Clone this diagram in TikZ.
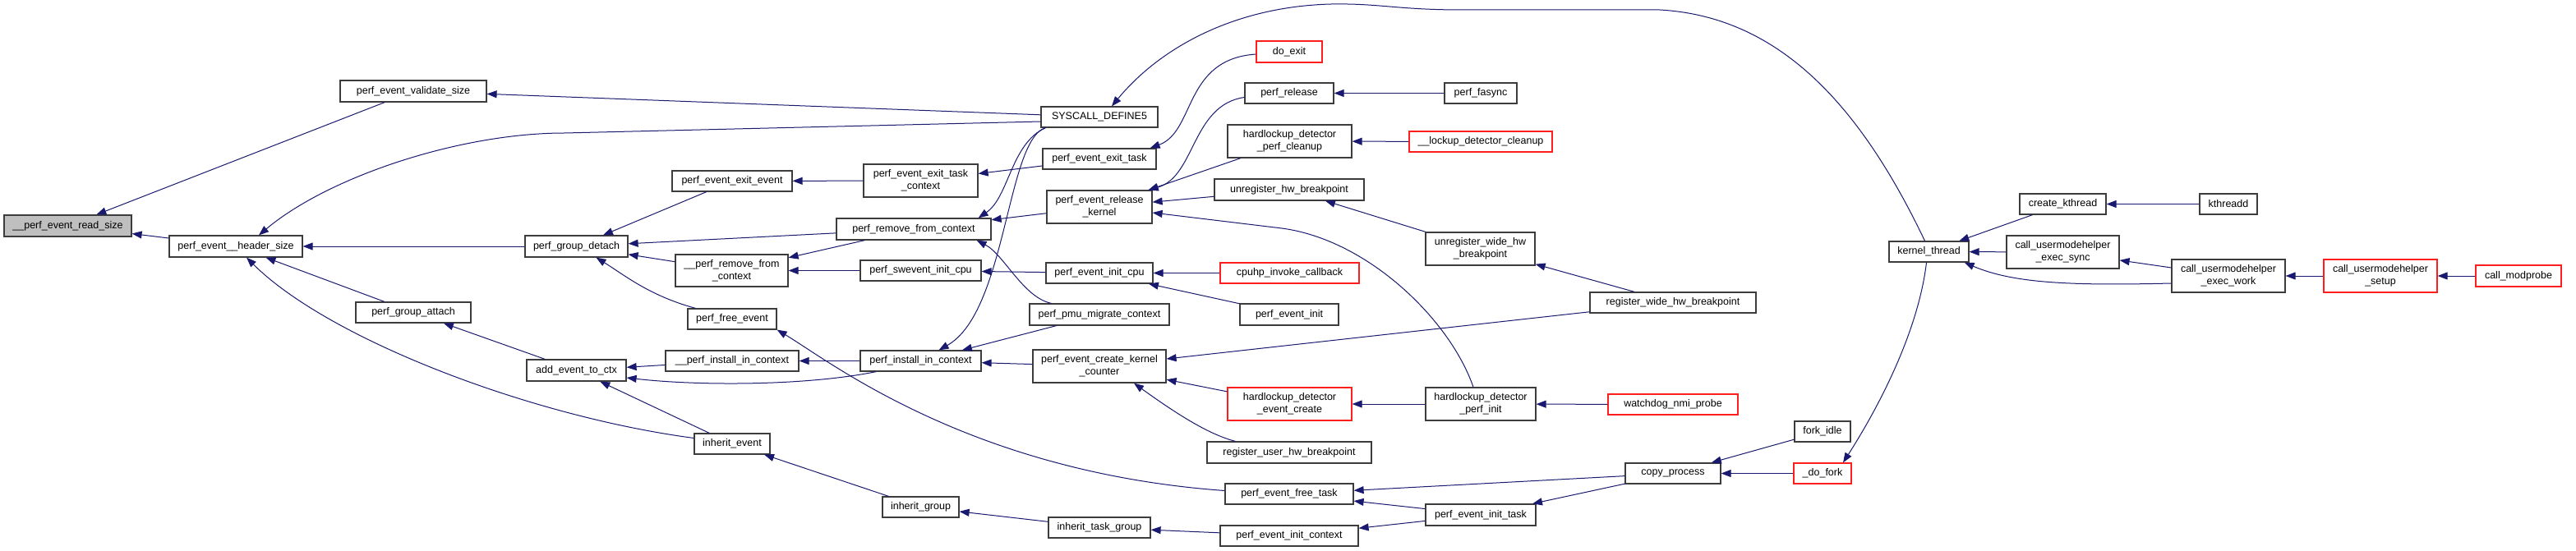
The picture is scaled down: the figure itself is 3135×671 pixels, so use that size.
\documentclass[tikz,border=0pt]{standalone}
\usepackage{fontspec}
\setmainfont{Liberation Sans}
\usetikzlibrary{arrows.meta}
\definecolor{edgecol}{RGB}{25,25,112}
\definecolor{boxcol}{RGB}{60,60,60}
\definecolor{redcol}{RGB}{255,30,30}
\definecolor{rootfill}{RGB}{191,191,191}
\begin{document}
\begin{tikzpicture}[x=1pt,y=-1pt,
  fn/.style={draw=boxcol, fill=white, line width=1.2pt, rectangle, inner sep=0pt,
    align=center, font=\fontsize{12.5}{15}\selectfont},
  rootfn/.style={fn, fill=rootfill},
  redfn/.style={fn, draw=redcol},
  sz/.style 2 args={minimum width=#1pt, minimum height=#2pt},
  call/.style={draw=edgecol, line width=1pt, -{Triangle[length=12pt,width=9pt]}}
]
\fill[white] (0,0) rectangle (3135,671);
\useasboundingbox (0,0) rectangle (3135,671);

% nodes
\node[rootfn, sz={155}{26}] (rs) at (82.5,275) {\_\_perf\_event\_read\_size};
\node[fn, sz={162}{26}] (hs) at (287,300) {perf\_event\_\_header\_size};
\node[fn, sz={178}{26}] (vs) at (503,111) {perf\_event\_validate\_size};
\node[fn, sz={140}{25}] (ga) at (503,380.5) {perf\_group\_attach};
\node[fn, sz={125}{26}] (gd) at (701.5,300) {perf\_group\_detach};
\node[fn, sz={146}{25}] (ee) at (891,220.5) {perf\_event\_exit\_event};
\node[fn, sz={137}{39}] (prfc) at (890.5,329.5) {\_\_perf\_remove\_from\\\_context};
\node[fn, sz={108}{25}] (fe) at (891,388.5) {perf\_free\_event};
\node[fn, sz={121}{26}] (ae) at (701.5,451) {add\_event\_to\_ctx};
\node[fn, sz={162}{25}] (pic) at (891,439.5) {\_\_perf\_install\_in\_context};
\node[fn, sz={92}{25}] (ie) at (891,540.5) {inherit\_event};
\node[fn, sz={142}{25}] (sys) at (1338,142.5) {SYSCALL\_DEFINE5};
\node[fn, sz={139}{40}] (etc) at (1120.5,220) {perf\_event\_exit\_task\\\_context};
\node[fn, sz={138}{25}] (et) at (1338,193.5) {perf\_event\_exit\_task};
\node[fn, sz={128}{40}] (rk) at (1338,252) {perf\_event\_release\\\_kernel};
\node[fn, sz={188}{26}] (rfc) at (1112,279) {perf\_remove\_from\_context};
\node[fn, sz={147}{25}] (sic) at (1120.5,329.5) {perf\_swevent\_init\_cpu};
\node[fn, sz={130}{25}] (eic) at (1338,332.5) {perf\_event\_init\_cpu};
\node[redfn, sz={80}{26}] (dx) at (1569,63) {do\_exit};
\node[fn, sz={108}{25}] (rel) at (1569,113.5) {perf\_release};
\node[fn, sz={151}{40}] (hpc) at (1569.5,172) {hardlockup\_detector\\\_perf\_cleanup};
\node[fn, sz={182}{26}] (uhb) at (1569,231) {unregister\_hw\_breakpoint};
\node[redfn, sz={169}{25}] (cic) at (1569.5,332.5) {cpuhp\_invoke\_callback};
\node[fn, sz={170}{26}] (pmc) at (1338,383) {perf\_pmu\_migrate\_context};
\node[fn, sz={147}{25}] (ic) at (1120.5,439.5) {perf\_install\_in\_context};
\node[fn, sz={162}{40}] (ckc) at (1338,446) {perf\_event\_create\_kernel\\\_counter};
\node[fn, sz={120}{26}] (ei) at (1569,383) {perf\_event\_init};
\node[redfn, sz={151}{40}] (hec) at (1569.5,492) {hardlockup\_detector\\\_event\_create};
\node[fn, sz={200}{26}] (ruhb) at (1569,551) {register\_user\_hw\_breakpoint};
\node[fn, sz={156}{25}] (eft) at (1569,601.5) {perf\_event\_free\_task};
\node[fn, sz={93}{25}] (ig) at (1120.5,617.5) {inherit\_group};
\node[fn, sz={124}{25}] (itg) at (1338,642.5) {inherit\_task\_group};
\node[fn, sz={168}{25}] (eicx) at (1569,652.5) {perf\_event\_init\_context};
\node[fn, sz={88}{25}] (fa) at (1802,113.5) {perf\_fasync};
\node[redfn, sz={174}{25}] (ldc) at (1802,172.5) {\_\_lockup\_detector\_cleanup};
\node[fn, sz={133}{40}] (uwhb) at (1801.5,303) {unregister\_wide\_hw\\\_breakpoint};
\node[fn, sz={202}{25}] (rwhb) at (2036,368.5) {register\_wide\_hw\_breakpoint};
\node[fn, sz={134}{40}] (hpi) at (1802,492) {hardlockup\_detector\\\_perf\_init};
\node[redfn, sz={158}{25}] (wnp) at (2036,492.5) {watchdog\_nmi\_probe};
\node[fn, sz={116}{25}] (cp) at (2036,576.5) {copy\_process};
\node[fn, sz={134}{26}] (eit) at (1802,627) {perf\_event\_init\_task};
\node[fn, sz={97}{25}] (kt) at (2347.5,306.5) {kernel\_thread};
\node[fn, sz={105}{25}] (ck) at (2510.5,248.5) {create\_kthread};
\node[fn, sz={137}{40}] (ces) at (2510.5,307) {call\_usermodehelper\\\_exec\_sync};
\node[fn, sz={68}{25}] (fi) at (2218,525.5) {fork\_idle};
\node[redfn, sz={70}{25}] (df) at (2218,576.5) {\_do\_fork};
\node[fn, sz={70}{25}] (kd) at (2712,248.5) {kthreadd};
\node[fn, sz={138}{40}] (cew) at (2712,336) {call\_usermodehelper\\\_exec\_work};
\node[redfn, sz={138}{40}] (cus) at (2897,336) {call\_usermodehelper\\\_setup};
\node[redfn, sz={104}{26}] (cm) at (3065,336) {call\_modprobe};

% edges (arrow at callee)
\draw[call] (vs) -- (rs);
\draw[call] (hs) -- (rs);
\draw[call] (sys) -- (vs);
\draw[call] ([yshift=-5.5pt]sys.west) -- (687,162) .. controls (560,162) and (400,215) .. ([xshift=28pt]hs.north);
\draw[call] (gd) -- (hs);
\draw[call] (ga) -- (hs);
\draw[call] ([yshift=7pt]ie.west) .. controls (645,507) and (400,413) .. ([xshift=13pt]hs.south);
\draw[call] (ee) -- (gd);
\draw[call] (rfc) -- (gd);
\draw[call] (prfc) -- (gd);
\draw[call] ([xshift=10pt]fe.north west) .. controls (790,360) and (760,335) .. ([xshift=24pt]gd.south);
\draw[call] (etc) -- (ee);
\draw[call] (rfc) -- (prfc);
\draw[call] (sic) -- (prfc);
\draw[call] (et) -- (etc);
\draw[call] ([xshift=6pt]sys.south west) .. controls (1230,175) and (1228,240) .. ([xshift=-16pt]rfc.north east);
\draw[call] (rk) -- (rfc);
\draw[call] ([xshift=27pt]pmc.north west) .. controls (1245,362) and (1222,310) .. ([xshift=-18pt]rfc.south east);
\draw[call] ([xshift=6pt]sys.south west) .. controls (1225,170) and (1225,380) .. ([xshift=22pt]ic.north);
\draw[call] (pmc) -- (ic);
\draw[call] (ckc) -- (ic);
\draw[call] (ic) -- (pic);
\draw[call] (pic) -- (ae);
\draw[call] ([xshift=20pt]ic.south west) .. controls (980,470) and (850,470) .. ([yshift=-9pt]ae.east);
\draw[call] (ae) -- (ga);
\draw[call] (ie) -- (ae);
\draw[call] ([yshift=4pt]eft.west) .. controls (1180,575) and (1010,440) .. (fe.south east);
\draw[call] (ig) -- (ie);
\draw[call] (itg) -- (ig);
\draw[call] (eicx) -- (itg);
\draw[call] ([yshift=-3pt]dx.west) .. controls (1440,72) and (1455,160) .. ([xshift=-8pt]et.north east);
\draw[call] ([yshift=-5pt]rel.west) .. controls (1450,128) and (1455,215) .. ([xshift=-5pt]rk.north east);
\draw[call] (hpc) -- (rk);
\draw[call] (uhb) -- (rk);
\draw[call] ([xshift=-9pt]hpi.north) .. controls (1765,390) and (1665,292) .. (1560,278) -- ([yshift=-7pt]rk.east);
\draw[call] (cic) -- (eic);
\draw[call] (ei) -- (eic);
\draw[call] (eic) -- (sic);
\draw[call] (rwhb) -- (ckc);
\draw[call] (hec) -- (ckc);
\draw[call] ([xshift=35pt]ruhb.north west) .. controls (1475,530) and (1440,510) .. ([xshift=42pt]ckc.south);
\draw[call] (cp) -- (eft);
\draw[call] (eit) -- (eft);
\draw[call] (eit) -- (eicx);
\draw[call] (cp) -- (eit);
\draw[call] (uwhb) -- (uhb);
\draw[call] (rwhb) -- (uwhb);
\draw[call] (fa) -- (rel);
\draw[call] (ldc) -- (hpc);
\draw[call] (hpi) -- (hec);
\draw[call] (wnp) -- (hpi);
\draw[call] (fi) -- (cp);
\draw[call] (df) -- (cp);
\draw[call] ([xshift=-3pt]kt.south) .. controls (2335,400) and (2290,490) .. ([xshift=25pt]df.north);
\draw[call] ([xshift=-5pt]kt.north) .. controls (2260,120) and (2160,20) .. (2020,12) -- (1780,12)
   .. controls (1700,12) and (1680,4) .. (1620,5) .. controls (1500,8) and (1410,60) .. ([xshift=15pt]sys.north);
\draw[call] (ck) -- (kt);
\draw[call] (ces) -- (kt);
\draw[call] ([yshift=-9pt]cew.west) .. controls (2520,348) and (2450,345) .. ([xshift=-6pt]kt.south east);
\draw[call] (kd) -- (ck);
\draw[call] (cew) -- (ces);
\draw[call] (cus) -- (cew);
\draw[call] (cm) -- (cus);
\end{tikzpicture}
\end{document}
